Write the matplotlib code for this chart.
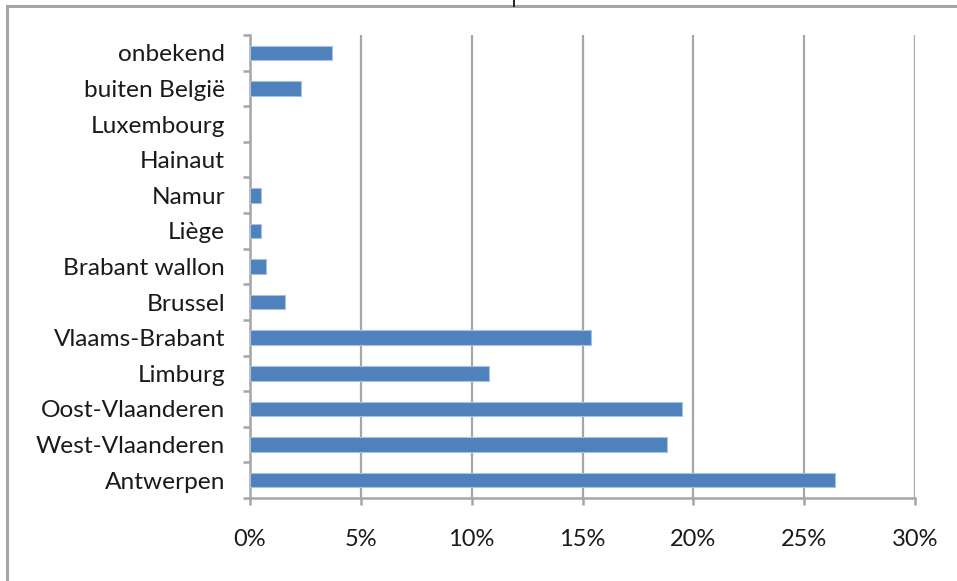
import matplotlib
matplotlib.use("Agg")
import matplotlib.pyplot as plt
from matplotlib.lines import Line2D
from matplotlib.ticker import FuncFormatter

# Share of respondents per province (percent), bottom to top
provinces = [
    "Antwerpen", "West-Vlaanderen", "Oost-Vlaanderen", "Limburg",
    "Vlaams-Brabant", "Brussel", "Brabant wallon", "Liège", "Namur",
    "Hainaut", "Luxembourg", "buiten België", "onbekend",
]
shares = [26.4, 18.8, 19.5, 10.8, 15.4, 1.6, 0.7, 0.5, 0.5, 0.0, 0.0, 2.3, 3.7]
x_ticks = [0, 5, 10, 15, 20, 25, 30]

W, H = 957, 581
fig = plt.figure(figsize=(W / 100, H / 100), dpi=100)
plt.rcParams["font.family"] = ["Lato", "DejaVu Sans"]

grey = "#a6a6a6"

# outer chart frame (only top and left edges are visible)
fig.add_artist(Line2D([7 / W, 7 / W], [0, 1 - 6 / H], color=grey, lw=2.2,
                      transform=fig.transFigure))
fig.add_artist(Line2D([7 / W, 1], [1 - 6 / H, 1 - 6 / H], color=grey, lw=2.2,
                      transform=fig.transFigure))
fig.add_artist(Line2D([514 / W, 514 / W], [1 - 6 / H, 1], color="#222222", lw=1.4,
                      transform=fig.transFigure))

ax = fig.add_axes([250 / W, 1 - 498 / H, 665 / W, 463 / H])
ypos = list(range(len(provinces)))
ax.barh(ypos, shares, height=0.41, color="#4f81bd",
        edgecolor=["#a9c1e0" if v > 0 else "none" for v in shares],
        linewidth=0.8, zorder=3)

ax.set_xlim(0, 30)
ax.set_ylim(-0.5, len(provinces) - 0.5)
ax.set_xticks(x_ticks)
ax.xaxis.set_major_formatter(FuncFormatter(lambda v, p: f"{v:.0f}%"))
ax.set_yticks(ypos)
ax.set_yticklabels(provinces)
ax.set_yticks([i - 0.5 for i in range(len(provinces) + 1)], minor=True)

ax.grid(axis="x", color=grey, lw=1.6, zorder=0)
for s in ("top", "right"):
    ax.spines[s].set_visible(False)
for s in ("left", "bottom"):
    ax.spines[s].set_color(grey)
    ax.spines[s].set_linewidth(1.8)

ax.tick_params(axis="y", which="major", length=0, pad=18, labelsize=17.6,
               labelcolor="#1a1a1a")
ax.tick_params(axis="y", which="minor", length=5, width=1.8, color=grey)
ax.tick_params(axis="x", length=5, width=1.8, color=grey, pad=17,
               labelsize=17, labelcolor="#1a1a1a")

fig.savefig("out.png", dpi=100)
